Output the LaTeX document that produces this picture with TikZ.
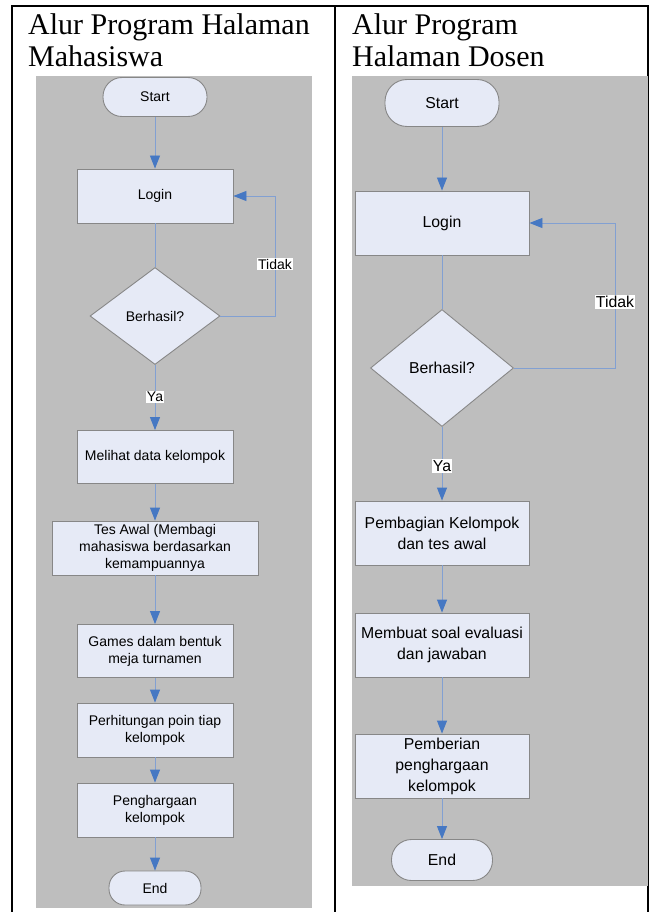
\documentclass[tikz,border=0pt]{standalone}
\usepackage{fontspec}
\setmainfont{Liberation Serif}
\newfontfamily\nodefont{Liberation Sans}
\usetikzlibrary{arrows.meta,shapes.geometric}
\definecolor{panelgray}{RGB}{190,190,190}
\definecolor{boxfill}{RGB}{230,234,246}
\definecolor{boxline}{RGB}{135,135,135}
\definecolor{connblue}{RGB}{130,160,210}
\definecolor{headblue}{RGB}{70,120,195}
\begin{document}
\begin{tikzpicture}[x=1pt,y=-1pt,
  title/.style={anchor=base west,inner sep=0pt,font=\fontsize{30}{32}\selectfont},
  boxL/.style={draw=boxline,fill=boxfill,line width=0.9pt,inner sep=1pt,align=center,
    font=\nodefont\fontsize{14}{17}\selectfont},
  boxR/.style={draw=boxline,fill=boxfill,line width=0.9pt,inner sep=1pt,align=center,
    font=\nodefont\fontsize{15.8}{21}\selectfont},
  procL/.style={boxL,rectangle,minimum width=156pt,minimum height=54pt},
  procR/.style={boxR,rectangle,minimum width=174pt,minimum height=64pt},
  decL/.style={boxL,diamond,aspect=1.34,minimum width=130pt,minimum height=97pt,inner sep=0pt},
  decR/.style={boxR,diamond,aspect=1.22,minimum width=143pt,minimum height=117pt,inner sep=0pt},
  conn/.style={draw=connblue,line width=0.9pt},
  arr/.style={conn,-{Triangle[length=13pt,width=10pt,color=headblue]}},
  lblL/.style={fill=white,inner sep=1pt,font=\nodefont\fontsize{14}{17}\selectfont},
  lblR/.style={fill=white,inner sep=1pt,font=\nodefont\fontsize{15.8}{19}\selectfont},
  frame/.style={draw=black,line width=1.4pt}
]
\useasboundingbox (0,0) rectangle (652,912);
\fill[white] (0,0) rectangle (652,912);
% frame
\draw[frame] (12,912) -- (12,6) -- (648,6) -- (648,912);
\draw[frame] (335,6) -- (335,912);
% titles
\node[title] (t1a) at (28,35) {Alur Program Halaman};
\node[title] (t1b) at (28,67) {Mahasiswa};
\node[title] (t2a) at (352,35) {Alur Program};
\node[title] (t2b) at (352,67) {Halaman Dosen};
% panels
\fill[panelgray] (36,76) rectangle (312,908);
\fill[panelgray] (352,76) rectangle (648,886);

% ---- left flow ----
\node[boxL,rectangle,minimum width=104pt,minimum height=39pt,rounded corners=19pt] (s1) at (155,97) {Start};
\node[procL] (l1) at (155,196) {Login};
\node[decL] (d1) at (155,316) {Berhasil?};
\node[procL,minimum height=53pt] (m1) at (155,457) {Melihat data kelompok};
\node[procL,minimum width=206pt] (te1) at (155,548) {Tes Awal (Membagi\\mahasiswa berdasarkan\\kemampuannya};
\node[procL,minimum height=53pt] (g1) at (155,651) {Games dalam bentuk\\meja turnamen};
\node[procL] (p1) at (155,730) {Perhitungan poin tiap\\kelompok};
\node[procL] (h1) at (155,810) {Penghargaan\\kelompok};
\node[boxL,rectangle,minimum width=92pt,minimum height=34pt,rounded corners=16pt] (e1) at (155,888) {End};
\coordinate (c1) at (275,196);
\draw[arr] (s1) -- (l1);
\draw[conn] (l1) -- (d1);
\draw[arr] (d1.east) -| (c1) -- (l1.east);
\node[lblL] (tid1) at (275,264) {Tidak};
\draw[arr] (d1) -- (m1);
\node[lblL] (ya1) at (155,397) {Ya};
\draw[arr] (m1) -- (te1);
\draw[arr] (te1) -- (g1);
\draw[arr] (g1) -- (p1);
\draw[arr] (p1) -- (h1);
\draw[arr] (h1) -- (e1);

% ---- right flow ----
\node[boxR,rectangle,minimum width=114pt,minimum height=47pt,rounded corners=22pt] (s2) at (442,103) {Start};
\node[procR] (l2) at (442,223) {Login};
\node[decR] (d2) at (442,368) {Berhasil?};
\node[procR] (pb2) at (442,533) {Pembagian Kelompok\\dan tes awal};
\node[procR] (mb2) at (442,645) {Membuat soal evaluasi\\dan jawaban};
\node[procR] (pr2) at (442,766) {Pemberian\\penghargaan\\kelompok};
\node[boxR,rectangle,minimum width=101pt,minimum height=41pt,rounded corners=20pt] (e2) at (442,860) {End};
\coordinate (c2) at (615,223);
\draw[arr] (s2) -- (l2);
\draw[conn] (l2) -- (d2);
\draw[arr] (d2.east) -| (c2) -- (l2.east);
\node[lblR] (tid2) at (615,302) {Tidak};
\draw[arr] (d2) -- (pb2);
\node[lblR] (ya2) at (442,466) {Ya};
\draw[arr] (pb2) -- (mb2);
\draw[arr] (mb2) -- (pr2);
\draw[arr] (pr2) -- (e2);
\end{tikzpicture}
\end{document}
